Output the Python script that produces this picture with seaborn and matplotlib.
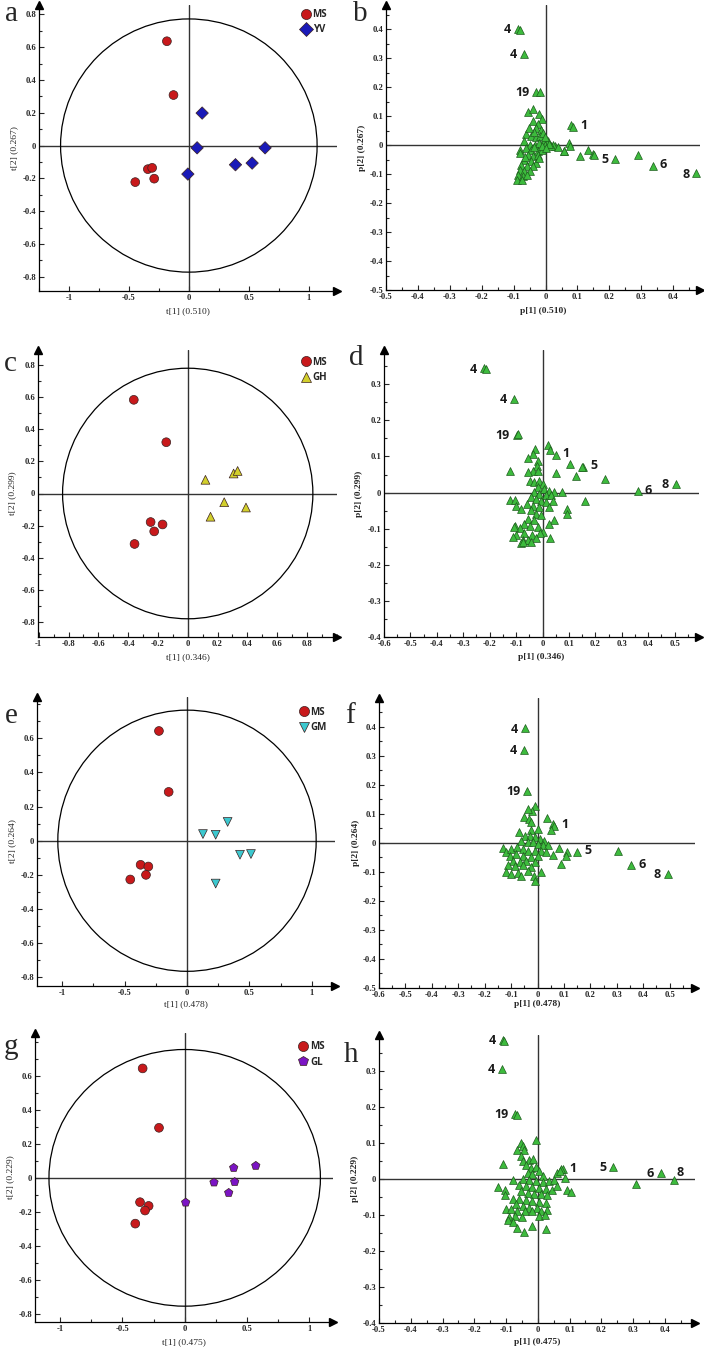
# PCA score and loading plots, 4 comparisons (MS vs YV / GH / GM / GL)

import pandas as pd
import matplotlib
matplotlib.use("Agg")
import matplotlib.pyplot as plt
import seaborn as sns
from matplotlib.patches import Ellipse
from matplotlib.ticker import FixedLocator, AutoMinorLocator, FuncFormatter

# -----------------------------
# Score data  (t[1], t[2])
# -----------------------------
ms_a = [(-0.183, 0.636), (-0.128, 0.308), (-0.342, -0.144), (-0.306, -0.136), (-0.289, -0.202), (-0.447, -0.223)]
yv_a = [(0.111, 0.198), (0.069, -0.014), (-0.008, -0.174), (0.389, -0.117), (0.528, -0.107), (0.636, -0.014)]

ms_c = [(-0.362, 0.581), (-0.144, 0.318), (-0.249, -0.177), (-0.169, -0.192), (-0.225, -0.235), (-0.357, -0.313)]
gh_c = [(0.119, 0.085), (0.308, 0.124), (0.335, 0.140), (0.245, -0.054), (0.391, -0.087), (0.153, -0.144)]

ms_e = [(-0.225, 0.643), (-0.147, 0.286), (-0.372, -0.141), (-0.310, -0.151), (-0.329, -0.200), (-0.455, -0.227)]
gm_e = [(0.128, 0.039), (0.230, 0.035), (0.326, 0.110), (0.425, -0.082), (0.513, -0.078), (0.230, -0.251)]

ms_g = [(-0.337, 0.643), (-0.206, 0.294), (-0.358, -0.143), (-0.289, -0.165), (-0.318, -0.192), (-0.396, -0.269)]
gl_g = [(0.393, 0.059), (0.570, 0.071), (0.235, -0.027), (0.401, -0.024), (0.353, -0.088), (0.008, -0.145)]

# Hotelling T2 ellipse half-axes (t[1], t[2])
ellipse_a = (1.070, 0.772)
ellipse_c = (0.840, 0.777)
ellipse_e = (1.036, 0.765)
ellipse_g = (1.088, 0.754)

# -----------------------------
# Loading data  (p[1], p[2])
# -----------------------------
load_b = [
    (-0.085, 0.400), (-0.080, 0.397), (-0.067, 0.313), (-0.030, 0.184), (-0.018, 0.182),
    (0.081, 0.068), (0.086, 0.061), (0.219, -0.047), (0.336, -0.071), (0.472, -0.098),
    (0.290, -0.034), (0.149, -0.030), (0.132, -0.018), (0.109, -0.037), (0.073, 0.007),
    (0.077, -0.005), (0.058, -0.020), (0.031, -0.005), (0.024, -0.001), (-0.056, 0.115),
    (-0.039, 0.124), (-0.019, 0.108), (-0.011, 0.091), (-0.040, 0.084), (-0.024, 0.072),
    (-0.029, 0.059), (-0.014, 0.053), (-0.060, 0.038), (-0.045, 0.030), (-0.029, 0.026),
    (-0.016, 0.032), (-0.005, 0.018), (0.007, 0.013), (-0.066, 0.013), (-0.050, 0.001),
    (-0.034, 0.001), (-0.019, 0.007), (-0.001, 0.001), (0.018, -0.005), (0.039, -0.008),
    (-0.081, -0.016), (-0.079, -0.028), (-0.060, -0.010), (-0.045, -0.016), (-0.024, -0.020),
    (-0.011, -0.016), (-0.055, -0.033), (-0.040, -0.039), (-0.024, -0.033), (-0.066, -0.051),
    (-0.047, -0.056), (-0.029, -0.062), (-0.076, -0.068), (-0.057, -0.074), (-0.040, -0.074),
    (-0.081, -0.085), (-0.068, -0.091), (-0.050, -0.089), (-0.086, -0.102), (-0.071, -0.108),
    (-0.089, -0.120), (-0.074, -0.120), (-0.057, -0.102), (0.059, -0.022), (0.151, -0.033),
    (-0.008, 0.040), (-0.003, 0.028), (0.010, 0.002), (-0.012, -0.004), (-0.035, 0.045),
    (-0.052, 0.060), (0.000, -0.010), (-0.036, -0.008), (-0.020, -0.045), (-0.064, -0.040),
]
load_d = [
    (-0.220, 0.344), (-0.214, 0.342), (-0.109, 0.259), (-0.098, 0.160), (-0.094, 0.163),
    (0.049, 0.105), (0.154, 0.072), (0.150, 0.071), (0.360, 0.004), (0.505, 0.023),
    (0.019, 0.131), (0.029, 0.118), (-0.028, 0.120), (-0.035, 0.106), (-0.056, 0.097),
    (-0.019, 0.088), (-0.021, 0.074), (-0.038, 0.059), (-0.019, 0.059), (-0.054, 0.058),
    (-0.122, 0.059), (0.050, 0.053), (0.104, 0.079), (0.128, 0.047), (0.238, 0.039),
    (-0.046, 0.033), (-0.031, 0.028), (-0.013, 0.033), (0.000, 0.024), (-0.019, 0.015),
    (0.006, 0.010), (0.025, 0.005), (0.044, 0.003), (0.075, 0.003), (-0.034, 0.001),
    (-0.013, -0.004), (0.013, -0.008), (0.031, -0.008), (-0.044, -0.013), (-0.025, -0.017),
    (-0.006, -0.022), (0.013, -0.027), (0.038, -0.022), (-0.125, -0.020), (-0.104, -0.020),
    (-0.059, -0.031), (-0.038, -0.036), (-0.013, -0.040), (0.025, -0.040), (0.159, -0.022),
    (-0.100, -0.036), (-0.081, -0.045), (0.094, -0.045), (0.091, -0.059), (-0.044, -0.049),
    (-0.025, -0.059), (-0.006, -0.063), (-0.056, -0.072), (-0.034, -0.077), (0.044, -0.077),
    (0.025, -0.086), (-0.069, -0.086), (-0.046, -0.092), (-0.106, -0.092), (-0.084, -0.098),
    (-0.019, -0.095), (0.000, -0.109), (-0.100, -0.118), (-0.069, -0.111), (-0.041, -0.118),
    (-0.009, -0.113), (0.029, -0.127), (-0.075, -0.132), (-0.054, -0.132), (-0.025, -0.127),
    (-0.081, -0.141), (-0.075, -0.137), (-0.044, -0.137), (-0.110, -0.123), (-0.108, -0.095),
]
load_f = [
    (-0.049, 0.394), (-0.050, 0.321), (-0.040, 0.179), (0.060, 0.065), (0.063, 0.058),
    (0.151, -0.030), (0.355, -0.078), (0.494, -0.107), (0.306, -0.027),
    (-0.008, 0.127), (-0.021, 0.110), (-0.036, 0.115), (-0.053, 0.089), (-0.034, 0.081),
    (-0.024, 0.072), (0.035, 0.087), (0.052, 0.046), (-0.069, 0.039), (-0.026, 0.045),
    (0.001, 0.048), (-0.049, 0.025), (-0.030, 0.025), (-0.011, 0.020), (0.008, 0.014),
    (0.026, 0.008), (-0.062, 0.008), (-0.037, 0.002), (-0.018, 0.002), (0.001, -0.003),
    (0.020, -0.007), (0.039, -0.009), (-0.131, -0.017), (-0.118, -0.030), (-0.100, -0.021),
    (-0.077, -0.015), (-0.055, -0.021), (-0.037, -0.027), (-0.011, -0.027), (0.014, -0.027),
    (0.033, -0.032), (0.058, -0.042), (0.083, -0.018), (0.112, -0.030), (0.108, -0.044),
    (0.089, -0.073), (-0.106, -0.044), (-0.081, -0.038), (-0.055, -0.044), (-0.024, -0.050),
    (0.001, -0.046), (-0.093, -0.061), (-0.068, -0.067), (-0.043, -0.061), (-0.011, -0.065),
    (-0.112, -0.078), (-0.087, -0.081), (-0.055, -0.076), (-0.024, -0.084), (0.014, -0.099),
    (-0.118, -0.099), (-0.100, -0.107), (-0.074, -0.104), (-0.062, -0.113), (-0.037, -0.096),
    (-0.014, -0.113), (-0.008, -0.130),
]
load_h = [
    (-0.111, 0.385), (-0.107, 0.383), (-0.113, 0.306), (-0.071, 0.179), (-0.067, 0.177),
    (0.078, 0.028), (0.073, 0.026), (0.238, 0.033), (0.388, 0.016), (0.429, -0.003),
    (0.308, -0.014), (0.092, -0.031), (0.104, -0.036), (0.025, -0.140), (-0.042, -0.148),
    (-0.110, 0.040), (-0.006, 0.109), (-0.053, 0.100), (-0.048, 0.090), (-0.064, 0.079),
    (-0.043, 0.081), (-0.053, 0.063), (-0.048, 0.049), (-0.029, 0.052), (-0.015, 0.054),
    (-0.038, 0.037), (-0.022, 0.030), (-0.006, 0.033), (0.004, 0.021), (-0.032, 0.017),
    (-0.017, 0.012), (0.015, 0.007), (0.062, 0.015), (0.069, 0.021), (0.085, 0.003),
    (-0.079, -0.004), (-0.048, 0.000), (-0.027, -0.002), (-0.006, -0.006), (0.015, -0.009),
    (0.035, -0.006), (0.051, -0.002), (-0.126, -0.023), (-0.103, -0.030), (-0.102, -0.046),
    (-0.058, -0.016), (-0.038, -0.020), (-0.017, -0.022), (0.004, -0.025), (0.025, -0.028),
    (0.046, -0.030), (0.062, -0.020), (-0.053, -0.034), (-0.032, -0.039), (-0.011, -0.041),
    (0.009, -0.043), (0.030, -0.046), (-0.077, -0.055), (-0.058, -0.057), (-0.038, -0.059),
    (-0.017, -0.062), (0.004, -0.065), (0.025, -0.066), (-0.069, -0.071), (-0.048, -0.076),
    (-0.027, -0.080), (-0.001, -0.080), (-0.100, -0.085), (-0.084, -0.083), (-0.064, -0.090),
    (-0.040, -0.090), (-0.017, -0.090), (0.009, -0.090), (0.030, -0.087), (-0.090, -0.105),
    (-0.071, -0.102), (-0.050, -0.105), (0.004, -0.102), (0.023, -0.099), (-0.095, -0.115),
    (-0.079, -0.120), (-0.067, -0.136), (-0.019, -0.131),
]

# variable labels: text, point, side of the label
labels_b = [("4", -0.085, 0.400, "l"), ("4", -0.067, 0.313, "l"), ("19", -0.030, 0.184, "l"),
            ("1", 0.086, 0.065, "r"), ("5", 0.219, -0.047, "l"), ("6", 0.336, -0.071, "r"),
            ("8", 0.472, -0.098, "l")]
labels_d = [("4", -0.220, 0.344, "l"), ("4", -0.109, 0.259, "l"), ("19", -0.098, 0.160, "l"),
            ("1", 0.049, 0.105, "r"), ("5", 0.154, 0.072, "r"), ("6", 0.360, 0.004, "r"),
            ("8", 0.505, 0.023, "l")]
labels_f = [("4", -0.049, 0.394, "l"), ("4", -0.050, 0.321, "l"), ("19", -0.040, 0.179, "l"),
            ("1", 0.063, 0.062, "r"), ("5", 0.151, -0.030, "r"), ("6", 0.355, -0.078, "r"),
            ("8", 0.494, -0.107, "l")]
labels_h = [("4", -0.111, 0.385, "l"), ("4", -0.113, 0.306, "l"), ("19", -0.071, 0.179, "l"),
            ("1", 0.078, 0.028, "r"), ("5", 0.238, 0.033, "l"), ("6", 0.388, 0.016, "l"),
            ("8", 0.429, -0.003, "ur")]

# explained variance shown in the axis titles
var_ab = ("0.510", "0.267")
var_cd = ("0.346", "0.299")
var_ef = ("0.478", "0.264")
var_gh = ("0.475", "0.229")

# -----------------------------
# Style
# -----------------------------
sns.set_style("ticks")
plt.rcParams["font.family"] = ["Liberation Serif", "DejaVu Serif"]
plt.rcParams["axes.linewidth"] = 0.9

RED = "#C8191B"
GREEN = "#3DBB3D"
group_style = {
    "MS": ("o", RED),
    "YV": ("D", "#1A1AB8"),
    "GH": ("^", "#D2CF2C"),
    "GM": ("v", "#3CC8CF"),
    "GL": ("p", "#7B14C4"),
}

W, H = 704, 1349
fig = plt.figure(figsize=(W / 100, H / 100), dpi=100)
fig.patch.set_facecolor("white")


def tick_fmt(v, pos):
    r = round(v, 2)
    if abs(r) < 1e-9:
        return "0"
    return f"{r:g}"


def steps(a, b, step):
    n = int(round((b - a) / step))
    return [round(a + i * step, 3) for i in range(n + 1)]


def make_axes(box, xlim, ylim, xt, yt, xlab, ylab, xtitle, ytitle, letter, letter_pos, bold_title):
    left, top, right, bottom = box
    ax = fig.add_axes([left / W, 1 - bottom / H, (right - left) / W, (bottom - top) / H])
    ax.set_xlim(*xlim)
    ax.set_ylim(*ylim)
    ax.set_facecolor("white")
    for s in ["top", "right"]:
        ax.spines[s].set_visible(False)
    for s in ["left", "bottom"]:
        ax.spines[s].set_color("black")

    ax.xaxis.set_major_locator(FixedLocator(steps(*xt)))
    ax.yaxis.set_major_locator(FixedLocator(steps(*yt)))
    ax.xaxis.set_minor_locator(AutoMinorLocator(2))
    ax.yaxis.set_minor_locator(AutoMinorLocator(2))
    ax.xaxis.set_major_formatter(FuncFormatter(tick_fmt))
    ax.yaxis.set_major_formatter(FuncFormatter(tick_fmt))
    ax.tick_params(which="both", direction="in", width=0.8, labelsize=6.2, pad=2)
    ax.tick_params(which="major", length=3.5)
    ax.tick_params(which="minor", length=2)
    for lab in ax.get_xticklabels() + ax.get_yticklabels():
        lab.set_fontweight("bold")

    # zero lines and arrow heads
    ax.axhline(0, color="#333333", lw=1.0, zorder=1)
    ax.axvline(0, color="#333333", lw=1.0, zorder=1)
    ax.plot([1], [0], marker=">", color="black", ms=6, transform=ax.transAxes, clip_on=False)
    ax.plot([0], [1], marker="^", color="black", ms=6, transform=ax.transAxes, clip_on=False)

    weight = "bold" if bold_title else "normal"
    ax.set_xlabel(xtitle, fontsize=6.8, fontweight=weight)
    ax.set_ylabel(ytitle, fontsize=6.8, fontweight=weight)
    ax.xaxis.set_label_coords((xlab[0] - left) / (right - left), (bottom - xlab[1]) / (bottom - top))
    ax.yaxis.set_label_coords((ylab[0] - left) / (right - left), (bottom - ylab[1]) / (bottom - top))
    ax.xaxis.label.set_va("center")
    ax.yaxis.label.set_va("center")

    fig.text(letter_pos[0] / W, 1 - letter_pos[1] / H, letter, fontsize=21,
             family="Liberation Serif", ha="center", va="baseline")
    return ax


def score_panel(ms, other, name, ellipse, leg_anchor, **kw):
    ax = make_axes(bold_title=False, **kw)
    ax.add_patch(Ellipse((0, 0), 2 * ellipse[0], 2 * ellipse[1], fill=False,
                         edgecolor="black", lw=0.9, zorder=2))
    df = pd.DataFrame(ms + other, columns=["t1", "t2"])
    df["group"] = ["MS"] * len(ms) + [name] * len(other)
    sns.scatterplot(
        data=df, x="t1", y="t2", hue="group", style="group",
        palette={g: group_style[g][1] for g in ["MS", name]},
        markers={g: group_style[g][0] for g in ["MS", name]},
        s=40, edgecolor="#3a2020", linewidth=0.5, ax=ax, zorder=3,
    )
    ax.set_xlim(*kw["xlim"])
    ax.set_ylim(*kw["ylim"])
    ax.set_xlabel(kw["xtitle"], fontsize=6.8)
    ax.set_ylabel(kw["ytitle"], fontsize=6.8)
    sns.move_legend(
        ax, "upper right", bbox_to_anchor=leg_anchor, frameon=False, title=None,
        prop={"family": "Open Sans", "weight": "bold", "size": 7},
        handletextpad=0.1, labelspacing=0.45, borderpad=0.2, handlelength=1.2,
        markerscale=1.15,
    )
    return ax


def loading_panel(points, labels, **kw):
    ax = make_axes(bold_title=True, **kw)
    df = pd.DataFrame(points, columns=["p1", "p2"])
    sns.scatterplot(data=df, x="p1", y="p2", marker="^", color=GREEN,
                    edgecolor="#1d5c1d", linewidth=0.5, s=32, ax=ax, zorder=3)
    ax.set_xlim(*kw["xlim"])
    ax.set_ylim(*kw["ylim"])
    ax.set_xlabel(kw["xtitle"], fontsize=6.8, fontweight="bold")
    ax.set_ylabel(kw["ytitle"], fontsize=6.8, fontweight="bold")
    offsets = {"l": ((-5, -0.5), "right", "center"),
               "r": ((5, 0.5), "left", "center"),
               "ur": ((2, 1), "left", "bottom")}
    for text, x, y, side in labels:
        off, ha, va = offsets[side]
        ax.annotate(text, (x, y), xytext=off, textcoords="offset points", ha=ha, va=va,
                    fontsize=9, fontweight="bold", family="Open Sans", color="#1a1a1a")
    return ax


# -----------------------------
# Panels
# -----------------------------
score_panel(ms_a, yv_a, "YV", ellipse_a, (0.99, 1.01),
            box=(39, 5, 337, 291), xlim=(-1.25, 1.236), ylim=(-0.887, 0.857),
            xt=(-1, 1, 0.5), yt=(-0.8, 0.8, 0.2), xlab=(188, 311), ylab=(14, 145),
            xtitle=f"t[1] ({var_ab[0]})", ytitle=f"t[2] ({var_ab[1]})",
            letter="a", letter_pos=(11, 21))
loading_panel(load_b, labels_b,
              box=(386, 5, 700, 290), xlim=(-0.5, 0.484), ylim=(-0.5, 0.483),
              xt=(-0.5, 0.4, 0.1), yt=(-0.5, 0.4, 0.1), xlab=(544, 311), ylab=(362, 145),
              xtitle=f"p[1] ({var_ab[0]})", ytitle=f"p[2] ({var_ab[1]})",
              letter="b", letter_pos=(360, 21))

score_panel(ms_c, gh_c, "GH", ellipse_c, (0.99, 1.0),
            box=(38, 350, 337, 637), xlim=(-1.005, 1.002), ylim=(-0.89, 0.89),
            xt=(-1, 0.8, 0.2), yt=(-0.8, 0.8, 0.2), xlab=(188, 657), ylab=(12, 493),
            xtitle=f"t[1] ({var_cd[0]})", ytitle=f"t[2] ({var_cd[1]})",
            letter="c", letter_pos=(10, 371))
loading_panel(load_d, labels_d,
              box=(384, 350, 699, 637), xlim=(-0.6, 0.592), ylim=(-0.4, 0.395),
              xt=(-0.6, 0.5, 0.1), yt=(-0.4, 0.3, 0.1), xlab=(542, 657), ylab=(359, 493),
              xtitle=f"p[1] ({var_cd[0]})", ytitle=f"p[2] ({var_cd[1]})",
              letter="d", letter_pos=(356, 365))

score_panel(ms_e, gm_e, "GM", ellipse_e, (0.995, 0.99),
            box=(37, 697, 335, 986), xlim=(-1.203, 1.187), ylim=(-0.851, 0.842),
            xt=(-1, 1, 0.5), yt=(-0.8, 0.6, 0.2), xlab=(188, 1004), ylab=(12, 840),
            xtitle=f"t[1] ({var_ef[0]})", ytitle=f"t[2] ({var_ef[1]})",
            letter="e", letter_pos=(11, 723))
loading_panel(load_f, labels_f,
              box=(379, 698, 695, 988), xlim=(-0.6, 0.596), ylim=(-0.5, 0.499),
              xt=(-0.6, 0.5, 0.1), yt=(-0.5, 0.4, 0.1), xlab=(537, 1004), ylab=(356, 843),
              xtitle=f"p[1] ({var_ef[0]})", ytitle=f"p[2] ({var_ef[1]})",
              letter="f", letter_pos=(350, 723))

score_panel(ms_g, gl_g, "GL", ellipse_g, (0.995, 0.995),
            box=(35, 1033, 333, 1322), xlim=(-1.2, 1.189), ylim=(-0.847, 0.851),
            xt=(-1, 1, 0.5), yt=(-0.8, 0.6, 0.2), xlab=(185, 1342), ylab=(10, 1178),
            xtitle=f"t[1] ({var_gh[0]})", ytitle=f"t[2] ({var_gh[1]})",
            letter="g", letter_pos=(11, 1054))
loading_panel(load_h, labels_h,
              box=(379, 1035, 695, 1323), xlim=(-0.5, 0.495), ylim=(-0.4, 0.399),
              xt=(-0.5, 0.4, 0.1), yt=(-0.4, 0.3, 0.1), xlab=(537, 1342), ylab=(355, 1179),
              xtitle=f"p[1] ({var_gh[0]})", ytitle=f"p[2] ({var_gh[1]})",
              letter="h", letter_pos=(351, 1062))

fig.savefig("out.png", dpi=100, facecolor="white")
print("Saved out.png")
